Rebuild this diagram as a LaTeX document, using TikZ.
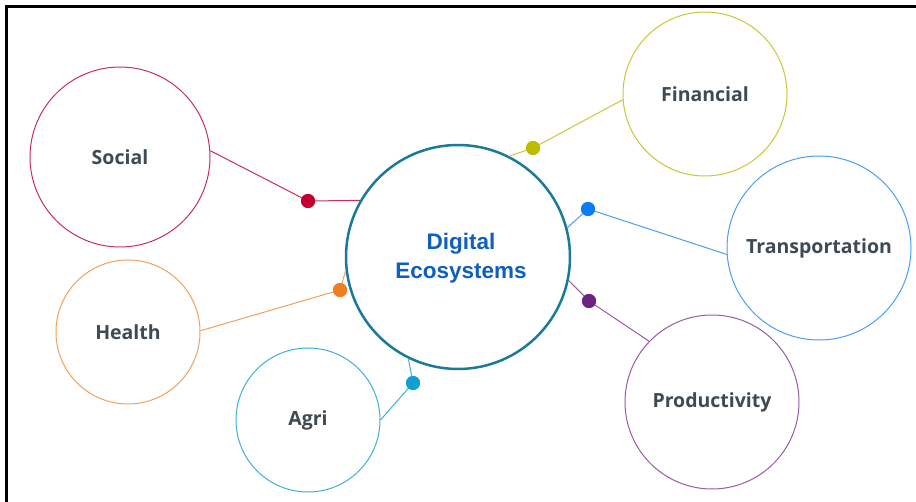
\documentclass[tikz,border=0pt]{standalone}
\usepackage{fontspec}
\newfontfamily\labfont{Open Sans}
\newfontfamily\cenfont{Liberation Sans}
\definecolor{socialc}{HTML}{C8305A}
\definecolor{sociald}{HTML}{C00030}
\definecolor{finc}{HTML}{C8C83C}
\definecolor{find}{HTML}{BDBD00}
\definecolor{tranc}{HTML}{4AA0F0}
\definecolor{trand}{HTML}{0A7CF5}
\definecolor{prodc}{HTML}{9A5AA8}
\definecolor{prodd}{HTML}{6E2282}
\definecolor{healc}{HTML}{F0A060}
\definecolor{heald}{HTML}{F07D20}
\definecolor{agric}{HTML}{40B0D8}
\definecolor{agrid}{HTML}{10A0D0}
\definecolor{centc}{HTML}{1A7A9A}
\definecolor{labc}{HTML}{3E4A54}
\definecolor{cent}{HTML}{0F5FBF}
\tikzset{
  outer/.style={circle, draw=#1, line width=1pt, inner sep=0pt, font=\labfont\bfseries\fontsize{19.5}{23}\selectfont, text=labc},
  dotn/.style={circle, fill=#1, inner sep=0pt, minimum size=14pt},
  conn/.style={draw=#1, line width=1pt}
}
\begin{document}
\begin{tikzpicture}[x=1pt,y=-1pt]
\useasboundingbox (0,0) rectangle (916,502);
\fill[white] (0,0) rectangle (916,502);
\coordinate (fr1) at (916,6.5);
\coordinate (fr2) at (6.5,6.5);
\coordinate (fr3) at (6.5,502);
\draw[line width=3pt] (fr1) -- (fr2) -- (fr3);

\node[circle, draw=centc, line width=2.5pt, minimum size=224pt, inner sep=0pt] (c) at (458,257) {};
\node[align=center, inner sep=0pt, font=\cenfont\bfseries\fontsize{22.5}{29}\selectfont, text=cent] (ct) at (461,258) {Digital\\Ecosystems};

\node[outer=socialc, minimum size=180pt] (soc) at (120,157) {Social};
\node[outer=finc, minimum size=164pt] (fin) at (705,94) {Financial};
\node[outer=tranc, minimum size=184pt] (tra) at (819,248) {Transportation};
\node[outer=healc, minimum size=144pt] (hea) at (128,332) {Health};
\node[outer=agric, minimum size=144pt] (agr) at (308,420) {Agri};
\node[outer=prodc, minimum size=174pt] (pro) at (712,402) {Productivity};

\node[dotn=sociald] (dsoc) at (308,201) {};
\node[dotn=find] (dfin) at (533,148) {};
\node[dotn=trand] (dtra) at (588,209) {};
\node[dotn=prodd] (dpro) at (589,301) {};
\node[dotn=heald] (dhea) at (340,290) {};
\node[dotn=agrid] (dagr) at (413,383) {};

\draw[conn=socialc] (c.150) -- (dsoc.center) -- (soc.4);
\draw[conn=finc] (c.63) -- (dfin.center) -- (fin.184);
\draw[conn=tranc] (c.15) -- (dtra.center) -- (tra.184);
\draw[conn=prodc] (c.348) -- (dpro.center) -- (pro.136);
\draw[conn=healc] (c.187) -- (dhea.center) -- (hea.1);
\draw[conn=agric] (c.244) -- (dagr.center) -- (agr.0);

\node[dotn=sociald] at (dsoc) {};
\node[dotn=find] at (dfin) {};
\node[dotn=trand] at (dtra) {};
\node[dotn=prodd] at (dpro) {};
\node[dotn=heald] at (dhea) {};
\node[dotn=agrid] at (dagr) {};
\end{tikzpicture}
\end{document}
